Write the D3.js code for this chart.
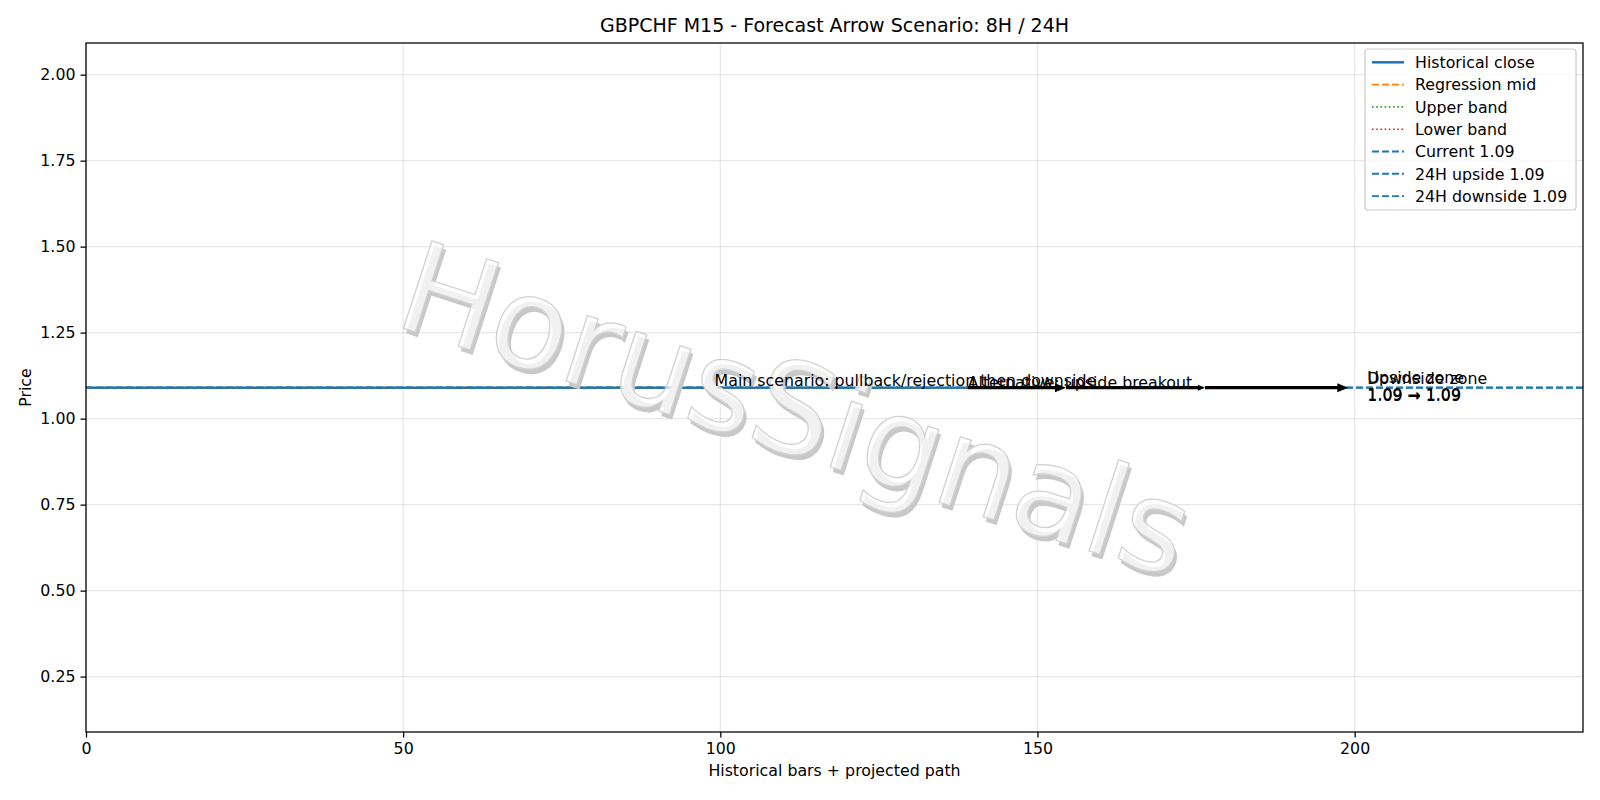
<!DOCTYPE html>
<html>
<head>
<meta charset="utf-8">
<script src="https://cdn.jsdelivr.net/npm/d3@7"></script>
<style>
  body { margin: 0; background: #fff; }
  svg { font-family: "DejaVu Sans", sans-serif; }
</style>
</head>
<body>
<svg width="1600" height="800"></svg>
<script>
// chart data
const histX = [0, 139];
const histClose = [1.09, 1.09];
const regMid = [1.09, 1.09];
const upperBand = [1.09, 1.09];
const lowerBand = [1.09, 1.09];

const levelNames = ["Current 1.09", "24H upside 1.09", "24H downside 1.09"];
const levelValues = [1.09, 1.09, 1.09];

const arrowFrom = [139, 154.5, 176.4];
const arrowTo = [154.5, 176.4, 199];
const arrowPrice = [1.09, 1.09, 1.09];
const arrowBigHead = [true, false, true];

const noteTexts = [
  "Main scenario: pullback/rejection then downside",
  "Alternative: upside breakout",
];
const noteX = [99.1, 139];
const zoneTexts = ["Upside zone", "Downside zone"];
const zoneRanges = ["1.09 → 1.09", "1.09 → 1.09"];
const zoneX = [202, 202];

const xTicks = [0, 50, 100, 150, 200];
const yTicks = [0.25, 0.5, 0.75, 1.0, 1.25, 1.5, 1.75, 2.0];

const BLUE = "#1f77b4";
const PT = 1.587; // px per pt

const svg = d3.select("svg");
const mLeft = 86, mRight = 1583, mTop = 43, mBottom = 732;

const x = d3.scaleLinear().domain([0, 236]).range([mLeft, mRight]);
const y = d3.scaleLinear().domain([0.089, 2.092]).range([mBottom, mTop]);

// grid
const grid = svg.append("g").attr("stroke", "#b0b0b0").attr("stroke-opacity", 0.3)
  .attr("stroke-width", 0.8 * PT);
grid.selectAll(".gx").data(xTicks).join("line").attr("class", "gx")
  .attr("x1", (d) => x(d)).attr("x2", (d) => x(d)).attr("y1", mTop).attr("y2", mBottom);
grid.selectAll(".gy").data(yTicks).join("line").attr("class", "gy")
  .attr("y1", (d) => y(d)).attr("y2", (d) => y(d)).attr("x1", mLeft).attr("x2", mRight);

const plot = svg.append("g");
const line = d3.line().x((d) => x(d[0])).y((d) => y(d[1]));
const pairs = (vals) => histX.map((xv, i) => [xv, vals[i]]);

const series = [
  { name: "Historical close", values: histClose, color: BLUE, width: 1.6, dash: null },
  { name: "Regression mid", values: regMid, color: "#ff7f0e", width: 1.2, dash: "7,3" },
  { name: "Upper band", values: upperBand, color: "#2ca02c", width: 1.0, dash: "1.6,2.6" },
  { name: "Lower band", values: lowerBand, color: "#d62728", width: 1.0, dash: "1.6,2.6" },
];

series.forEach((s) => {
  plot.append("path")
    .attr("d", line(pairs(s.values)))
    .attr("fill", "none")
    .attr("stroke", s.color)
    .attr("stroke-width", s.width * PT)
    .attr("stroke-dasharray", s.dash);
});

const levels = levelNames.map((name, i) => ({ name, value: levelValues[i], color: BLUE, width: 1.2, dash: "7,3" }));
plot.selectAll(".level").data(levels).join("line").attr("class", "level")
  .attr("x1", mLeft).attr("x2", mRight)
  .attr("y1", (d) => y(d.value)).attr("y2", (d) => y(d.value))
  .attr("stroke", (d) => d.color)
  .attr("stroke-width", (d) => d.width * PT)
  .attr("stroke-dasharray", (d) => d.dash);

// watermark
const wm = svg.append("g").attr("transform", "translate(796,410) rotate(18)")
  .attr("font-size", 126).attr("text-anchor", "middle").attr("dominant-baseline", "central");
wm.append("text").attr("x", 4).attr("y", 4).attr("fill", "#c8c8c8").text("HorusSignals");
wm.append("text").attr("fill", "#ffffff").attr("fill-opacity", 0.75)
  .attr("stroke", "#d2d2d2").attr("stroke-width", 1.3).text("HorusSignals");

// scenario arrows
const arrows = arrowFrom.map((x0, i) => ({ x0, x1: arrowTo[i], p: arrowPrice[i], big: arrowBigHead[i] }));
const arr = svg.append("g");
arrows.forEach((a) => {
  const hl = a.big ? 11 : 7, hw = a.big ? 4.5 : 3;
  const x0 = x(a.x0), x1 = x(a.x1), yy = y(a.p);
  arr.append("line")
    .attr("x1", x0).attr("x2", x1 - hl + 1).attr("y1", yy).attr("y2", yy)
    .attr("stroke", "#000").attr("stroke-width", 2.0 * PT);
  arr.append("polygon")
    .attr("points", `${x1},${yy} ${x1 - hl},${yy - hw} ${x1 - hl},${yy + hw}`)
    .attr("fill", "#000");
});

// annotations
const notes = svg.append("g").attr("font-size", 15.8).attr("fill", "#000");
noteTexts.forEach((t, i) => {
  notes.append("text").attr("x", x(noteX[i])).attr("y", y(1.09) + (i === 0 ? -1.5 : 0.5)).text(t);
});
zoneTexts.forEach((t, i) => {
  const off = i * 1.5;
  notes.append("text").attr("x", x(zoneX[i])).attr("y", y(1.09) - 4.7 + off).text(t);
  notes.append("text").attr("x", x(zoneX[i])).attr("y", y(1.09) + 12.3 + off).text(zoneRanges[i]);
});

// axes
const xAxis = svg.append("g").attr("transform", `translate(0,${mBottom})`)
  .call(d3.axisBottom(x).tickValues(xTicks).tickFormat(d3.format("d")).tickSize(5.5).tickPadding(5));
const yAxis = svg.append("g").attr("transform", `translate(${mLeft},0)`)
  .call(d3.axisLeft(y).tickValues(yTicks).tickFormat(d3.format(".2f")).tickSize(5.5).tickPadding(5));
[xAxis, yAxis].forEach((g) => {
  g.select(".domain").remove();
  g.selectAll("line").attr("stroke", "#000").attr("stroke-width", 0.8 * PT);
  g.selectAll("text").attr("font-size", 15.8).attr("fill", "#000").attr("font-family", "DejaVu Sans");
});

svg.append("rect").attr("x", mLeft).attr("y", mTop).attr("width", mRight - mLeft).attr("height", mBottom - mTop)
  .attr("fill", "none").attr("stroke", "#000").attr("stroke-width", 0.8 * PT);

svg.append("text").attr("x", (mLeft + mRight) / 2).attr("y", 32).attr("text-anchor", "middle")
  .attr("font-size", 19).text("GBPCHF M15 - Forecast Arrow Scenario: 8H / 24H");
svg.append("text").attr("x", (mLeft + mRight) / 2).attr("y", 776).attr("text-anchor", "middle")
  .attr("font-size", 15.8).text("Historical bars + projected path");
svg.append("text").attr("transform", `translate(31,${(mTop + mBottom) / 2}) rotate(-90)`)
  .attr("text-anchor", "middle").attr("font-size", 15.8).text("Price");

// legend
const legendItems = series.concat(levels);
const legend = svg.append("g");
legend.append("rect").attr("x", 1365).attr("y", 49).attr("width", 211).attr("height", 161)
  .attr("rx", 3).attr("fill", "#fff").attr("fill-opacity", 0.8)
  .attr("stroke", "#cccccc").attr("stroke-width", 1.2);
const entry = legend.selectAll(".entry").data(legendItems).join("g").attr("class", "entry")
  .attr("transform", (d, i) => `translate(1372,${62.3 + i * 22.3})`);
entry.append("line").attr("x1", 0).attr("x2", 32).attr("y1", 0).attr("y2", 0)
  .attr("stroke", (d) => d.color).attr("stroke-width", (d) => d.width * PT)
  .attr("stroke-dasharray", (d) => d.dash);
entry.append("text").attr("x", 43).attr("y", 0).attr("dy", "0.36em")
  .attr("font-size", 15.8).text((d) => d.name);
</script>
</body>
</html>
